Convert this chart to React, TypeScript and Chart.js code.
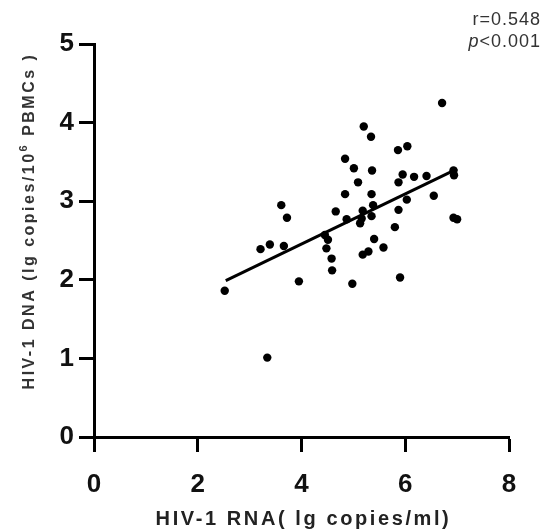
import React, { useEffect, useRef } from "react";
import { Chart, registerables } from "chart.js";

Chart.register(...registerables);

// HIV-1 RNA (x) and HIV-1 DNA (y) for each participant
const rnaValues = [
  2.52, 3.34, 3.21, 3.39, 3.66, 3.61, 3.72, 3.95, 4.45, 4.51,
  4.48, 4.58, 4.59, 4.66, 4.84, 4.84, 5.01, 5.09, 4.87, 4.98,
  5.2, 5.34, 5.36, 5.35, 5.38, 5.18, 5.16, 5.35, 5.13, 5.4,
  5.58, 5.18, 5.29, 5.9, 5.8, 5.87, 6.03, 5.87, 5.95, 6.17,
  6.41, 5.86, 6.04, 6.71, 6.55, 6.93, 6.94, 6.93, 7.0,
];
const dnaValues = [
  1.86, 1.01, 2.39, 2.45, 2.43, 2.95, 2.79, 1.98, 2.57, 2.51,
  2.4, 2.27, 2.12, 2.87, 3.09, 3.54, 3.42, 3.24, 2.77, 1.95,
  3.95, 3.82, 3.39, 3.09, 2.95, 2.88, 2.78, 2.81, 2.72, 2.52,
  2.41, 2.32, 2.36, 2.03, 2.67, 2.89, 3.02, 3.24, 3.34, 3.31,
  3.32, 3.65, 3.7, 4.25, 3.07, 3.39, 3.33, 2.79, 2.77,
];

// Regression line end points
const fitX = [2.54, 7.0];
const fitY = [1.99, 3.41];

const xTicks = [0, 2, 4, 6, 8];
const yTicks = [0, 1, 2, 3, 4, 5];

const xTitle = "HIV-1 RNA( lg copies/ml)";
const yTitleMain = "HIV-1 DNA (lg copies/10";
const yTitleSup = "6";
const yTitleEnd = " PBMCs )";
const statR = "r=0.548";
const statP = "p";
const statPRest = "<0.001";

const FONT = "'Liberation Sans', Arial, sans-serif";

const textPlugin = {
  id: "textPlugin",
  afterDraw(chart: any) {
    const ctx = chart.ctx as CanvasRenderingContext2D;
    const area = chart.chartArea;
    ctx.save();

    // X axis title
    ctx.fillStyle = "#222";
    ctx.font = `bold 20px ${FONT}`;
    (ctx as any).letterSpacing = "2.6px";
    ctx.textAlign = "center";
    ctx.textBaseline = "middle";
    ctx.fillText(xTitle, (area.left + area.right) / 2 + 2, 519);

    // Y axis title (rotated, with superscript)
    ctx.save();
    ctx.translate(30, 221);
    ctx.rotate(-Math.PI / 2);
    ctx.fillStyle = "#333";
    (ctx as any).letterSpacing = "2.5px";
    ctx.textAlign = "left";
    ctx.textBaseline = "middle";
    const mainFont = `bold 16px ${FONT}`;
    const supFont = `bold 11px ${FONT}`;
    ctx.font = mainFont;
    const w1 = ctx.measureText(yTitleMain).width;
    const w3 = ctx.measureText(yTitleEnd).width;
    ctx.font = supFont;
    const w2 = ctx.measureText(yTitleSup).width;
    let x = -(w1 + w2 + w3) / 2;
    ctx.font = mainFont;
    ctx.fillText(yTitleMain, x, 0);
    x += w1;
    ctx.font = supFont;
    ctx.fillText(yTitleSup, x, -6);
    x += w2;
    ctx.font = mainFont;
    ctx.fillText(yTitleEnd, x, 0);
    ctx.restore();

    // Statistics annotation
    ctx.fillStyle = "#333";
    (ctx as any).letterSpacing = "1px";
    ctx.textAlign = "right";
    ctx.textBaseline = "middle";
    ctx.font = `18px ${FONT}`;
    ctx.fillText(statR, 541, 20);
    const restW = ctx.measureText(statPRest).width;
    ctx.fillText(statPRest, 541, 42);
    ctx.font = `italic 18px ${FONT}`;
    ctx.fillText(statP, 541 - restW, 42);

    ctx.restore();
  },
};

export default function App() {
  const canvasRef = useRef<HTMLCanvasElement | null>(null);

  useEffect(() => {
    const canvas = canvasRef.current;
    if (!canvas) return;
    const points = rnaValues.map((v, i) => ({ x: v, y: dnaValues[i] }));
    const fit = fitX.map((v, i) => ({ x: v, y: fitY[i] }));

    const chart = new Chart(canvas, {
      type: "scatter",
      data: {
        datasets: [
          {
            type: "scatter",
            label: "Participants",
            data: points,
            backgroundColor: "#000",
            borderColor: "#000",
            borderWidth: 0,
            pointRadius: 4.2,
            pointHoverRadius: 4.2,
          },
          {
            type: "line",
            label: "Fit",
            data: fit,
            borderColor: "#000",
            borderWidth: 3,
            pointRadius: 0,
            fill: false,
          } as any,
        ],
      },
      options: {
        responsive: false,
        animation: false,
        events: [],
        layout: { padding: { top: 44, right: 40, left: 0, bottom: 0 } },
        plugins: {
          legend: { display: false },
          tooltip: { enabled: false },
          title: { display: false },
        },
        scales: {
          x: {
            type: "linear",
            min: 0,
            max: 8,
            afterBuildTicks: (s: any) => {
              s.ticks = xTicks.map((v) => ({ value: v }));
            },
            afterFit: (s: any) => {
              s.height = 95;
            },
            ticks: {
              font: { family: FONT, size: 26, weight: "bold" },
              color: "#111",
              padding: 17,
              maxRotation: 0,
            },
            grid: {
              drawOnChartArea: false,
              drawTicks: true,
              tickLength: 15,
              tickWidth: 3,
              color: "#000",
            },
            border: { display: true, color: "#000", width: 3 },
          },
          y: {
            type: "linear",
            min: 0,
            max: 5,
            afterBuildTicks: (s: any) => {
              s.ticks = yTicks.map((v) => ({ value: v }));
            },
            afterFit: (s: any) => {
              s.width = 94;
            },
            ticks: {
              font: { family: FONT, size: 26, weight: "bold" },
              color: "#111",
              padding: 5,
            },
            grid: {
              drawOnChartArea: false,
              drawTicks: true,
              tickLength: 15,
              tickWidth: 3,
              color: "#000",
            },
            border: { display: true, color: "#000", width: 3 },
          },
        },
      } as any,
      plugins: [textPlugin],
    });

    return () => chart.destroy();
  }, []);

  return (
    <div style={{ position: "absolute", left: 0, top: 0, width: 549, height: 532, background: "#fff" }}>
      <canvas ref={canvasRef} width={549} height={532} style={{ display: "block" }} />
    </div>
  );
}
